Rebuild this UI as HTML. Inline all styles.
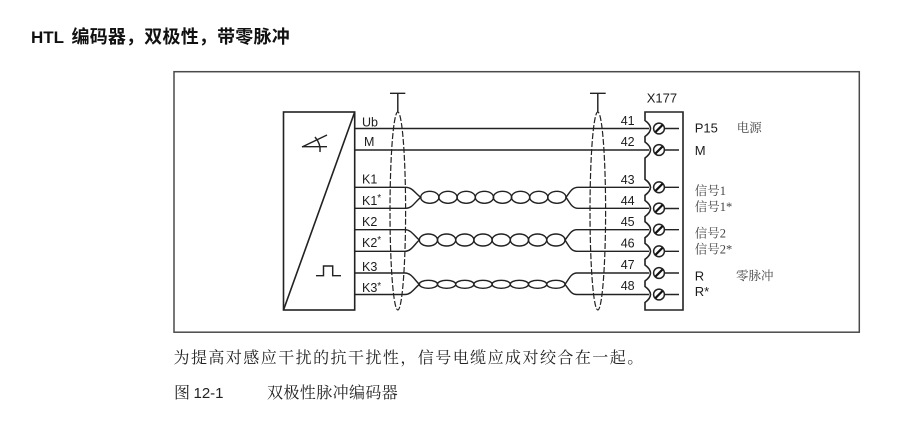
<!DOCTYPE html>
<html><head><meta charset="utf-8"><style>
html,body{margin:0;padding:0;background:#fff;width:910px;height:431px;overflow:hidden}
svg{display:block}
text{font-family:"Liberation Sans","Noto Sans CJK SC",sans-serif;fill:#1c1c1c;font-size:12.5px}
.s{font-family:"Liberation Serif","Noto Serif CJK SC",serif;fill:#444;font-size:12.5px}
.b{font-family:"Liberation Serif","Noto Serif CJK SC",serif;fill:#222;font-size:16px}
.l{fill:none;stroke:#222;stroke-width:1.45}
</style></head><body>
<svg width="910" height="431" viewBox="0 0 910 431" xmlns="http://www.w3.org/2000/svg">
<rect width="910" height="431" fill="#fff"/>
<text x="31" y="43" style="font-size:17px;font-weight:bold;fill:#111">HTL</text>
<text x="71.5" y="43" style="font-size:18px;font-weight:bold;fill:#111;letter-spacing:.2px;font-family:'Noto Sans CJK SC',sans-serif">编码器，双极性，带零脉冲</text>
<rect x="174" y="71.7" width="685.3" height="260.5" fill="none" stroke="#4a4a4a" stroke-width="1.5"/>

<!-- encoder box -->
<rect class="l" style="stroke-width:1.6" x="283.5" y="112" width="71.2" height="198"/>
<path class="l" style="stroke-width:1.6" d="M354.7 112L283.5 310"/>
<path class="l" d="M302 146.7H327M302 147L327 135M315 137Q321 144 320 152"/>
<path class="l" d="M316 275.7H323.5V266H332.7V275.7H341"/>

<!-- wires -->
<path class="l" style="stroke-width:1.5" d="M354.7 128.5H649M354.7 150H649"/>
<path class="l" d="M354.7 187.3H406C412 187.3 415 193 420.7 197.3C415 202 412 208.3 406 208.3H354.7"/>
<path class="l" d="M354.7 229.7H405C411 229.7 414 235.5 419.3 240C414 245 411 251.3 405 251.3H354.7"/>
<path class="l" d="M354.7 273H405C411 273 414 279 419.3 284.3C414 289 411 294.5 405 294.5H354.7"/>
<path class="l" d="M649 187.3H578C572 187.3 570 192 566 197.3C570 203 572 208.3 578 208.3H649"/>
<path class="l" d="M649 229.7H577C571 229.7 569 235 565 240C569 246 571 251.3 577 251.3H649"/>
<path class="l" d="M649 273H577C571 273 569 279 565 284.3C569 289.5 571 294.5 577 294.5H649"/>

<!-- twisted pairs -->
<g fill="none" stroke="#222" stroke-width="1.45">
<ellipse cx="429.8" cy="197.3" rx="9.1" ry="6"/><ellipse cx="448" cy="197.3" rx="9.1" ry="6"/><ellipse cx="466.2" cy="197.3" rx="9.1" ry="6"/><ellipse cx="484.4" cy="197.3" rx="9.1" ry="6"/><ellipse cx="502.5" cy="197.3" rx="9.1" ry="6"/><ellipse cx="520.6" cy="197.3" rx="9.1" ry="6"/><ellipse cx="538.8" cy="197.3" rx="9.1" ry="6"/><ellipse cx="556.9" cy="197.3" rx="9.1" ry="6"/>
<ellipse cx="428.4" cy="240" rx="9.1" ry="6"/><ellipse cx="446.6" cy="240" rx="9.1" ry="6"/><ellipse cx="464.8" cy="240" rx="9.1" ry="6"/><ellipse cx="483" cy="240" rx="9.1" ry="6"/><ellipse cx="501.2" cy="240" rx="9.1" ry="6"/><ellipse cx="519.4" cy="240" rx="9.1" ry="6"/><ellipse cx="537.6" cy="240" rx="9.1" ry="6"/><ellipse cx="555.9" cy="240" rx="9.1" ry="6"/>
<ellipse cx="428.4" cy="284.3" rx="9.1" ry="4"/><ellipse cx="446.6" cy="284.3" rx="9.1" ry="4"/><ellipse cx="464.8" cy="284.3" rx="9.1" ry="4"/><ellipse cx="483" cy="284.3" rx="9.1" ry="4"/><ellipse cx="501.2" cy="284.3" rx="9.1" ry="4"/><ellipse cx="519.4" cy="284.3" rx="9.1" ry="4"/><ellipse cx="537.6" cy="284.3" rx="9.1" ry="4"/><ellipse cx="555.9" cy="284.3" rx="9.1" ry="4"/>
</g>

<!-- shields -->
<ellipse cx="397.8" cy="211" rx="7.8" ry="99" fill="none" stroke="#222" stroke-width="1.2" stroke-dasharray="6 2"/>
<ellipse cx="597.8" cy="211" rx="7.8" ry="99" fill="none" stroke="#222" stroke-width="1.2" stroke-dasharray="6 2"/>
<path class="l" d="M390 93.3H405.3M397.8 93.3V112M590 93.3H605.7M597.8 93.3V112"/>

<!-- terminal block -->
<path class="l" style="stroke-width:1.6" d="M683 112H645V120.5Q656 128.5 645 136.5V142Q656 150 645 158V179.3Q656 187.3 645 195.3V200.5Q656 208.5 645 216.5V221.7Q656 229.7 645 237.7V243.3Q656 251.3 645 259.3V265Q656 273 645 281V286.5Q656 294.5 645 302.5V310H683Z"/>
<g fill="#fff" stroke="#222" stroke-width="1.5">
<circle cx="659" cy="128.5" r="5.4"/><circle cx="659" cy="150" r="5.4"/><circle cx="659" cy="187.3" r="5.4"/><circle cx="659" cy="208.5" r="5.4"/><circle cx="659" cy="229.7" r="5.4"/><circle cx="659" cy="251.3" r="5.4"/><circle cx="659" cy="273" r="5.4"/><circle cx="659" cy="294.5" r="5.4"/>
</g>
<g stroke="#111" stroke-width="2.2">
<path d="M655.5 132L662.5 125M655.5 153.5L662.5 146.5M655.5 190.8L662.5 183.8M655.5 212L662.5 205M655.5 233.2L662.5 226.2M655.5 254.8L662.5 247.8M655.5 276.5L662.5 269.5M655.5 298L662.5 291"/>
</g>
<path class="l" d="M664.5 128.5H679M664.5 150H679M664.5 187.3H679M664.5 208.5H679M664.5 229.7H679M664.5 251.3H679M664.5 273H679M664.5 294.5H679"/>

<!-- left labels -->
<text x="362" y="126.5">Ub</text>
<text x="364" y="146">M</text>
<text x="362" y="183.3">K1</text>
<text x="362" y="205">K1<tspan dy="-4" style="font-size:10px">*</tspan></text>
<text x="362" y="226">K2</text>
<text x="362" y="247">K2<tspan dy="-4" style="font-size:10px">*</tspan></text>
<text x="362" y="271">K3</text>
<text x="362" y="292">K3<tspan dy="-3" style="font-size:10px">*</tspan></text>

<!-- terminal numbers -->
<text x="620.7" y="125">41</text>
<text x="620.7" y="146">42</text>
<text x="620.7" y="184">43</text>
<text x="620.7" y="205">44</text>
<text x="620.7" y="226">45</text>
<text x="620.7" y="247.3">46</text>
<text x="620.7" y="269">47</text>
<text x="620.7" y="290">48</text>
<text x="646.7" y="102.7" style="font-size:13px">X177</text>

<!-- right labels -->
<text x="694.7" y="132.3" style="font-size:13px">P15</text>
<text x="694.7" y="155" style="font-size:13px">M</text>
<text x="694.7" y="280.3" style="font-size:13px">R</text>
<text x="694.7" y="296" style="font-size:13px">R*</text>
<text class="s" x="736.7" y="132">电源</text>
<text class="s" x="736" y="280">零脉冲</text>
<text class="s" x="694.7" y="195">信号1</text>
<text class="s" x="694.7" y="211">信号1*</text>
<text class="s" x="694.7" y="237.3">信号2</text>
<text class="s" x="694.7" y="253.3">信号2*</text>

<!-- body -->
<text class="b" x="173.5" y="363" style="letter-spacing:1.45px">为提高对感应干扰的抗干扰性，信号电缆应成对绞合在一起。</text>
<text class="b" x="174" y="398">图</text>
<text x="193.5" y="398" style="font-size:15px;fill:#222">12-1</text>
<text class="b" x="267" y="398" style="letter-spacing:.4px">双极性脉冲编码器</text>
</svg>
</body></html>
